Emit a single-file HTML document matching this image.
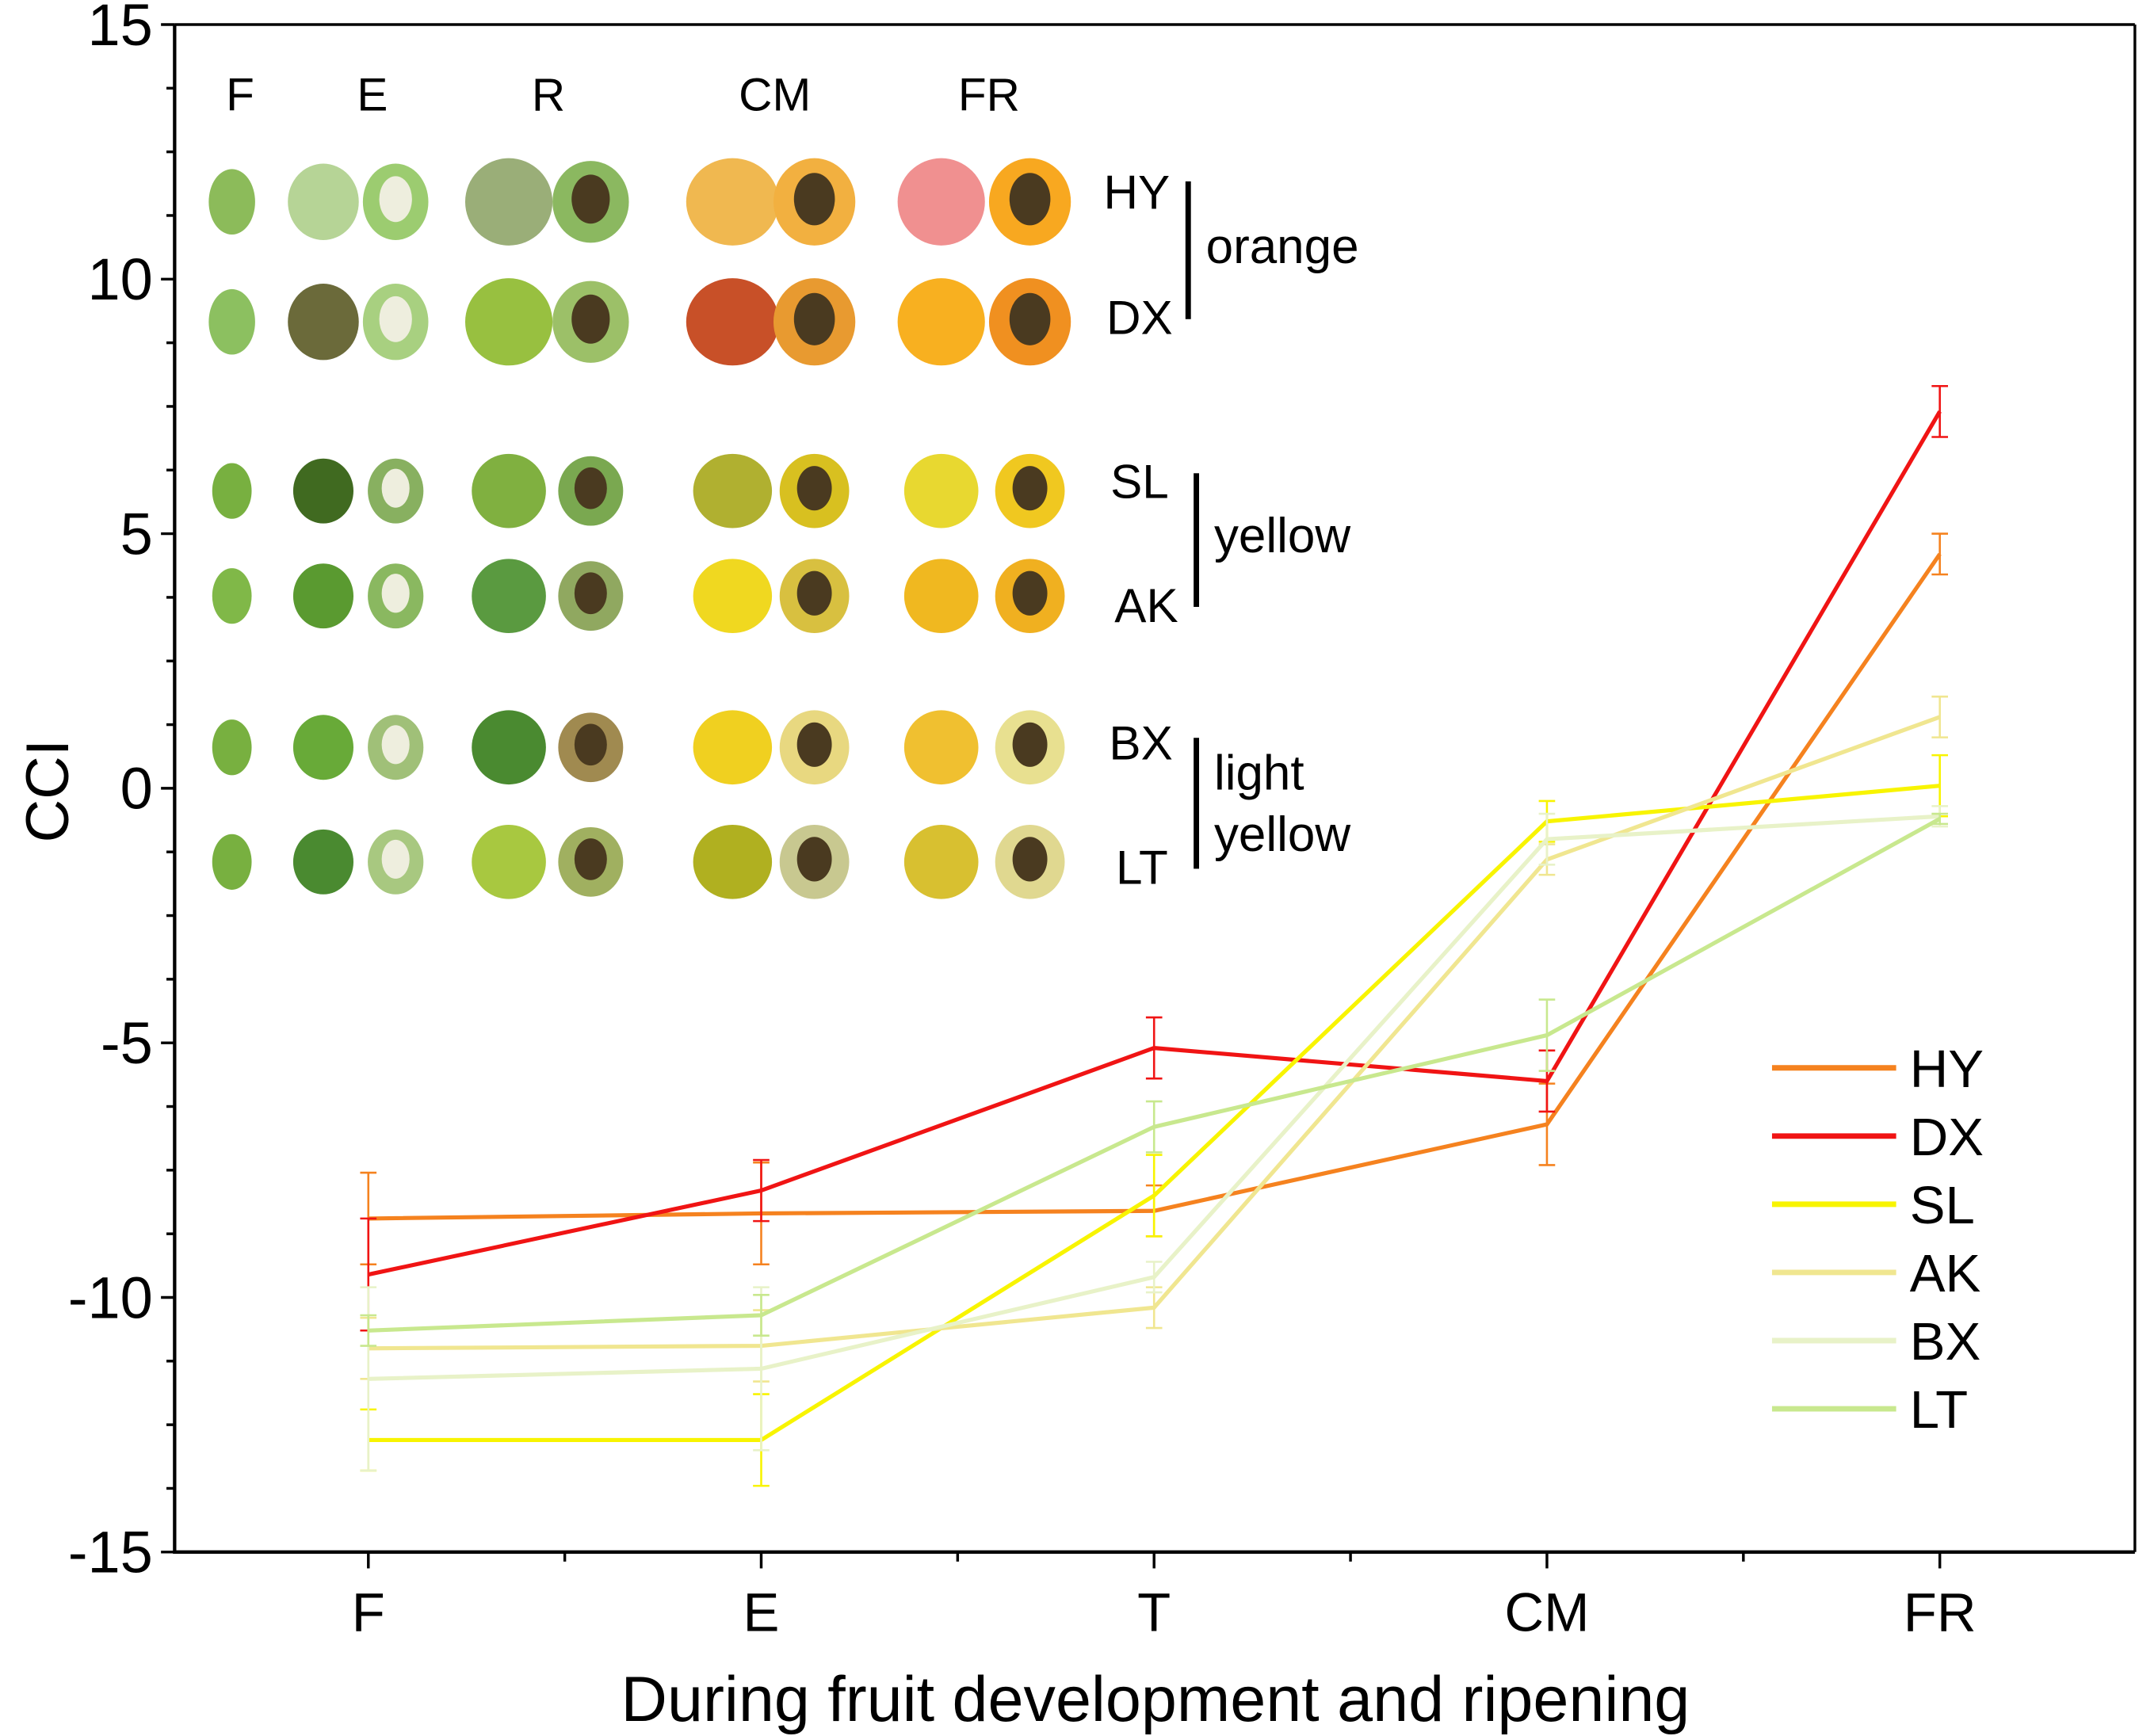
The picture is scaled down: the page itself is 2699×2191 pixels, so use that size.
<!DOCTYPE html>
<html><head><meta charset="utf-8"><style>
html,body{margin:0;padding:0;background:#fff;}
svg{display:block;}
text{font-family:"Liberation Sans",Arial,sans-serif;fill:#000;}
</style></head><body>
<svg id="chart" width="2699" height="2191" viewBox="0 0 1568 1272.9" xmlns="http://www.w3.org/2000/svg">
<g id="photos"></g>
<g id="plot"></g>
<g id="axes"></g>
<g font-size="34">
<text x="176" y="81" text-anchor="middle">F</text>
<text x="273" y="81" text-anchor="middle">E</text>
<text x="402" y="81" text-anchor="middle">R</text>
<text x="568" y="81" text-anchor="middle">CM</text>
<text x="725" y="81" text-anchor="middle">FR</text>
<text x="809" y="153" font-size="35">HY</text>
<text x="811" y="245" font-size="35">DX</text>
<text x="814" y="365" font-size="35">SL</text>
<text x="817" y="456" font-size="35">AK</text>
<text x="813" y="557" font-size="35">BX</text>
<text x="818" y="648" font-size="35">LT</text>
<rect x="869" y="133" width="4" height="101" fill="#000"/>
<rect x="875" y="347" width="4" height="98" fill="#000"/>
<rect x="875" y="541" width="4" height="96" fill="#000"/>
<text x="884" y="193" font-size="36">orange</text>
<text x="890" y="405" font-size="36">yellow</text>
<text x="890" y="579" font-size="36">light</text>
<text x="890" y="624" font-size="36">yellow</text>
</g>
<text x="847" y="1262" text-anchor="middle" font-size="47">During fruit development and ripening</text>
<text transform="translate(50,580) rotate(-90)" text-anchor="middle" font-size="44">CCI</text>
</svg>
<script>
const categories = ["F","E","T","CM","FR"];
const seriesNames = ["HY","DX","SL","AK","BX","LT"];
const seriesColors = ["#f5821f","#f01414","#f8f400","#f0e690","#e8f2c8","#c8e88e"];
const valuesHY = [-8.45,-8.35,-8.3,-6.6,4.6];
const valuesDX = [-9.55,-7.9,-5.1,-5.75,7.4];
const valuesSL = [-12.8,-12.8,-8.0,-0.65,0.05];
const valuesAK = [-11.0,-10.95,-10.2,-1.4,1.4];
const valuesBX = [-11.6,-11.4,-9.6,-1.0,-0.55];
const valuesLT = [-10.65,-10.35,-6.65,-4.85,-0.6];
const errHY = [0.9,1.0,0.5,0.8,0.4];
const errDX = [1.1,0.6,0.6,0.6,0.5];
const errSL = [0.6,0.9,0.8,0.4,0.6];
const errAK = [0.6,0.7,0.4,0.3,0.4];
const errBX = [1.8,1.6,0.3,0.5,0.2];
const errLT = [0.3,0.4,0.5,0.7,0.1];
const yTicks = [15,10,5,0,-5,-10,-15];
const yTickLabels = ["15","10","5","0","-5","-10","-15"];

const allValues=[valuesHY,valuesDX,valuesSL,valuesAK,valuesBX,valuesLT];
const allErr=[errHY,errDX,errSL,errAK,errBX,errLT];
const X0=128,X1=1565,Y0=18,Y1=1138;
function yScale(v){return Y1-(v+15)/30*(Y1-Y0);}
function xScale(i){return 270+i*288;}
const NS="http://www.w3.org/2000/svg";
function mk(tag,attrs,parent){const e=document.createElementNS(NS,tag);for(const k in attrs)e.setAttribute(k,attrs[k]);parent.appendChild(e);return e;}

// photos (approximate)
const photos=document.getElementById('photos');
const rowsY=[148,236,360,437,548,632];
const colX=[170,237,290,373,433,537,597,690,755];
const rowCols=[
["#8cbb5a","#b6d496","#9ccc70","#9aae78","#8bb860","#f0b850","#f2b040","#f09090","#f8a820"],
["#8cc060","#6b6a3a","#a8d080","#98c040","#9cc068","#c85028","#e89a30","#f8b020","#f09020"],
["#78b040","#406a20","#88b060","#80b040","#7aa850","#b0b030","#d8c020","#e8d830","#f0c820"],
["#80b848","#5a9a30","#8ab860","#5a9a40","#90a860","#f0d820","#d8c040","#f0b820","#f0b020"],
["#78b040","#68aa38","#a0c078","#4a8a30","#a08a50","#f0d020","#e8d880","#f0c030","#e8e090"],
["#78b040","#4a8a30","#a8c880","#a8c840","#a0b060","#b0b020","#c8c890","#d8c030","#e0d890"]];
const sizes=[[17,24],[26,28],[24,28],[32,32],[28,30],[34,32],[30,32],[32,32],[30,32]];
for(let r=0;r<6;r++){for(let c=0;c<9;c++){
 const s=sizes[c];const sc=r>=2?0.85:1;
 const el=mk('ellipse',{cx:colX[c],cy:rowsY[r],rx:s[0]*sc,ry:s[1]*sc,fill:rowCols[r][c]},photos);
 
 
 if(c===2||c===4||c===6||c===8){
  const pit=mk('ellipse',{cx:colX[c],cy:rowsY[r]-2,rx:s[0]*sc*0.5,ry:s[1]*sc*0.6,fill:c===2?"#eeeede":"#4a3a20"},photos);
  
  
 }
}}

// series
const plot=document.getElementById('plot');
for(let s=0;s<6;s++){
 const g=mk('g',{},plot);
 
 
 const vals=allValues[s],err=allErr[s];
 for(let i=0;i<vals.length;i++){
  const x=xScale(i),yt=yScale(vals[i]+err[i]),yb=yScale(vals[i]-err[i]);
  const eb=mk('path',{d:`M${x},${yt}V${yb}M${x-6},${yt}H${x+6}M${x-6},${yb}H${x+6}`,stroke:seriesColors[s],'stroke-width':1.5,fill:'none'},g);
  
  
 }
 const pts=vals.map((v,i)=>xScale(i)+','+yScale(v)).join(' ');
 const pl=mk('polyline',{points:pts,stroke:seriesColors[s],'stroke-width':3,fill:'none'},g);
 
 
 const ly=783+s*50;
 const lg=mk('g',{},plot);
 
 
 mk('line',{x1:1299,x2:1390,y1:ly,y2:ly,stroke:seriesColors[s],'stroke-width':4},lg);
 const t=mk('text',{x:1400,y:ly+14,'font-size':39},lg);t.textContent=seriesNames[s];
}

// axes
const axes=document.getElementById('axes');
mk('path',{d:`M${X0},${Y0}V${Y1}H${X1}`,stroke:'#000','stroke-width':2.5,fill:'none'},axes);
mk('line',{x1:X0,x2:X1,y1:Y0,y2:Y0,stroke:'#000','stroke-width':2},axes);
mk('line',{x1:X1,x2:X1,y1:Y0,y2:Y1,stroke:'#000','stroke-width':2},axes);
for(let v=-15;v<=15;v+=1.25){
 const y=yScale(v);const major=Math.abs(v%5)<1e-6;
 mk('line',{x1:X0-(major?10:6),x2:X0,y1:y,y2:y,stroke:'#000','stroke-width':2},axes);
}
yTicks.forEach((v,i)=>{
 const t=mk('text',{x:X0-16,y:yScale(v)+15,'text-anchor':'end','font-size':43},axes);
 t.textContent=yTickLabels[i];
 
 
});
for(let i=-0.5;i<=4.5;i+=0.5){
 const x=xScale(i);if(x<X0||x>X1)continue;const major=Number.isInteger(i);
 mk('line',{x1:x,x2:x,y1:Y1,y2:Y1+(major?12:7),stroke:'#000','stroke-width':2},axes);
}
categories.forEach((c,i)=>{
 const t=mk('text',{x:xScale(i),y:1196,'text-anchor':'middle','font-size':40},axes);
 t.textContent=c;
 
 
});
</script>
</body></html>
